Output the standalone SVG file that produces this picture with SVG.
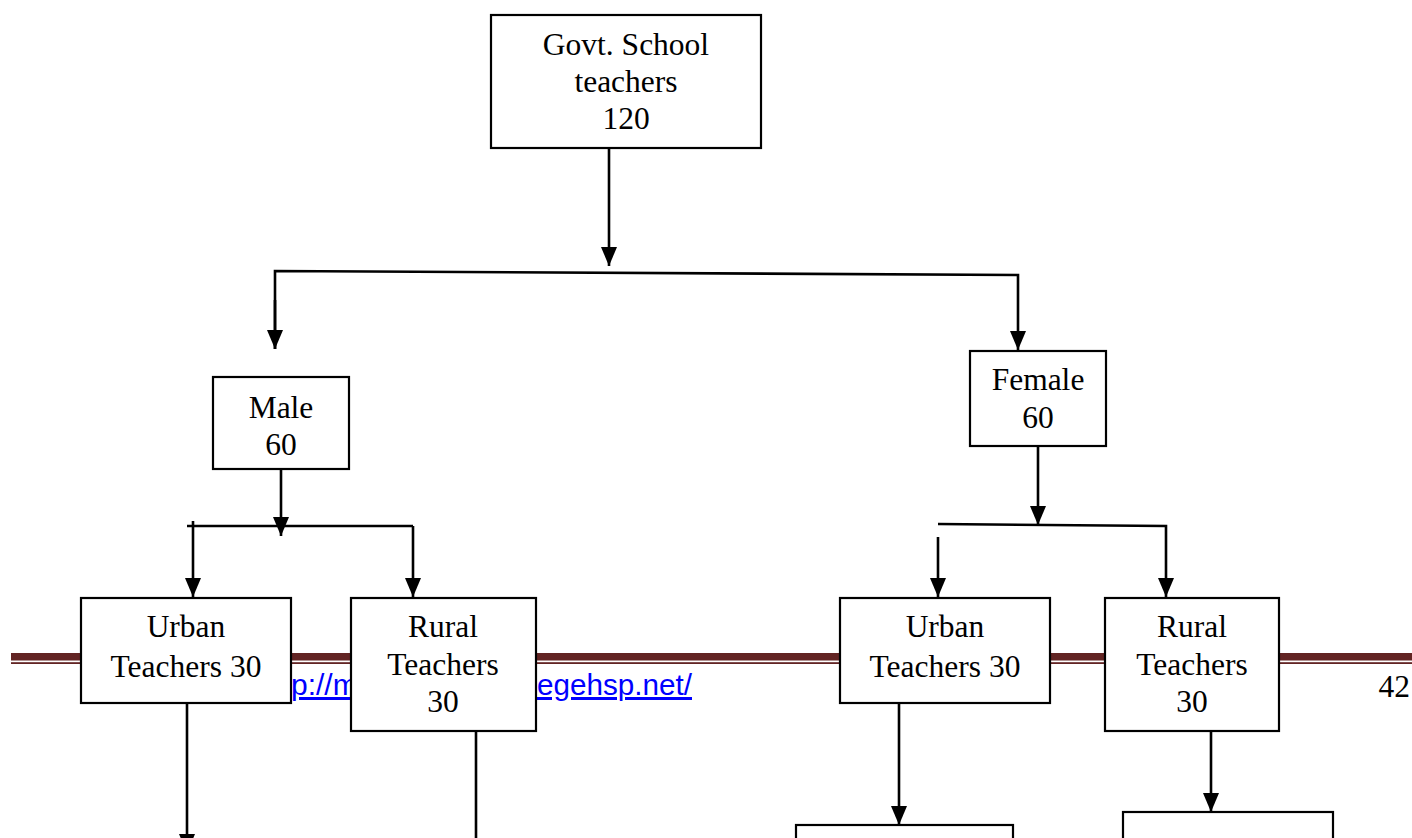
<svg xmlns="http://www.w3.org/2000/svg" width="1412" height="838" viewBox="0 0 1412 838">
<style>
.box{fill:#fff;stroke:#000;stroke-width:2.2}
.t{font-family:"Liberation Serif","Times New Roman",serif;font-size:31.5px;fill:#000;text-anchor:middle}
.ln{fill:none;stroke:#000;stroke-width:2.6}
.link{font-family:"Liberation Sans",Arial,sans-serif;font-size:30px;fill:#0000ff;text-decoration:underline}
</style>
<defs>
<marker id="ah" markerUnits="userSpaceOnUse" markerWidth="22" markerHeight="18" refX="19" refY="8" orient="auto">
<path d="M0,0 L19,8 L0,16 z" fill="#000"/>
</marker>
</defs>
<rect width="1412" height="838" fill="#fff"/>
<g id="footer">
<rect x="11" y="653" width="1401" height="7.5" fill="#622423"/>
<rect x="11" y="662.2" width="1401" height="1.8" fill="#622423"/>
<text class="link" x="291" y="695">p://m</text>
<text class="link" x="537" y="695" textLength="155" lengthAdjust="spacingAndGlyphs">egehsp.net/</text>
<text x="1410" y="697" font-family="Liberation Serif,Times New Roman,serif" font-size="31.5" text-anchor="end">42</text>
</g>
<g id="connectors">
<line class="ln" x1="609" y1="148" x2="609" y2="266" marker-end="url(#ah)"/>
<polyline class="ln" points="275,349 275,271 1018,275 1018,350" marker-end="url(#ah)"/>
<line class="ln" x1="275" y1="300" x2="275" y2="349" marker-end="url(#ah)"/>
<line class="ln" x1="281" y1="469" x2="281" y2="536" marker-end="url(#ah)"/>
<line class="ln" x1="187" y1="526" x2="413" y2="526"/>
<line class="ln" x1="193" y1="521" x2="193" y2="597" marker-end="url(#ah)"/>
<line class="ln" x1="413" y1="526" x2="413" y2="597" marker-end="url(#ah)"/>
<line class="ln" x1="1038" y1="446" x2="1038" y2="525" marker-end="url(#ah)"/>
<polyline class="ln" points="938,524 1166,526 1166,597" marker-end="url(#ah)"/>
<line class="ln" x1="938" y1="537" x2="938" y2="597" marker-end="url(#ah)"/>
<line class="ln" x1="187" y1="703" x2="187" y2="853" marker-end="url(#ah)"/>
<line class="ln" x1="476" y1="731" x2="476" y2="840"/>
<line class="ln" x1="899" y1="703" x2="899" y2="825" marker-end="url(#ah)"/>
<line class="ln" x1="1211" y1="731" x2="1211" y2="812" marker-end="url(#ah)"/>
</g>
<g id="govt">
<rect class="box" x="491" y="15" width="270" height="133"/>
<text class="t" x="626" y="55">Govt. School</text>
<text class="t" x="626" y="92">teachers</text>
<text class="t" x="626" y="129">120</text>
</g>
<g id="male">
<rect class="box" x="213" y="377" width="136" height="92"/>
<text class="t" x="281" y="418">Male</text>
<text class="t" x="281" y="455">60</text>
</g>
<g id="female">
<rect class="box" x="970" y="351" width="136" height="95"/>
<text class="t" x="1038" y="390">Female</text>
<text class="t" x="1038" y="428">60</text>
</g>
<g id="male-urban">
<rect class="box" x="81" y="598" width="210" height="105"/>
<text class="t" x="186" y="637">Urban</text>
<text class="t" x="186" y="677">Teachers 30</text>
</g>
<g id="male-rural">
<rect class="box" x="351" y="598" width="185" height="133"/>
<text class="t" x="443" y="637">Rural</text>
<text class="t" x="443" y="675">Teachers</text>
<text class="t" x="443" y="712">30</text>
</g>
<g id="female-urban">
<rect class="box" x="840" y="598" width="210" height="105"/>
<text class="t" x="945" y="637">Urban</text>
<text class="t" x="945" y="677">Teachers 30</text>
</g>
<g id="female-rural">
<rect class="box" x="1105" y="598" width="174" height="133"/>
<text class="t" x="1192" y="637">Rural</text>
<text class="t" x="1192" y="675">Teachers</text>
<text class="t" x="1192" y="712">30</text>
</g>
<g id="f-urban-child">
<rect class="box" x="796" y="825" width="217" height="40"/>
</g>
<g id="f-rural-child">
<rect class="box" x="1123" y="812" width="210" height="50"/>
</g>
</svg>
